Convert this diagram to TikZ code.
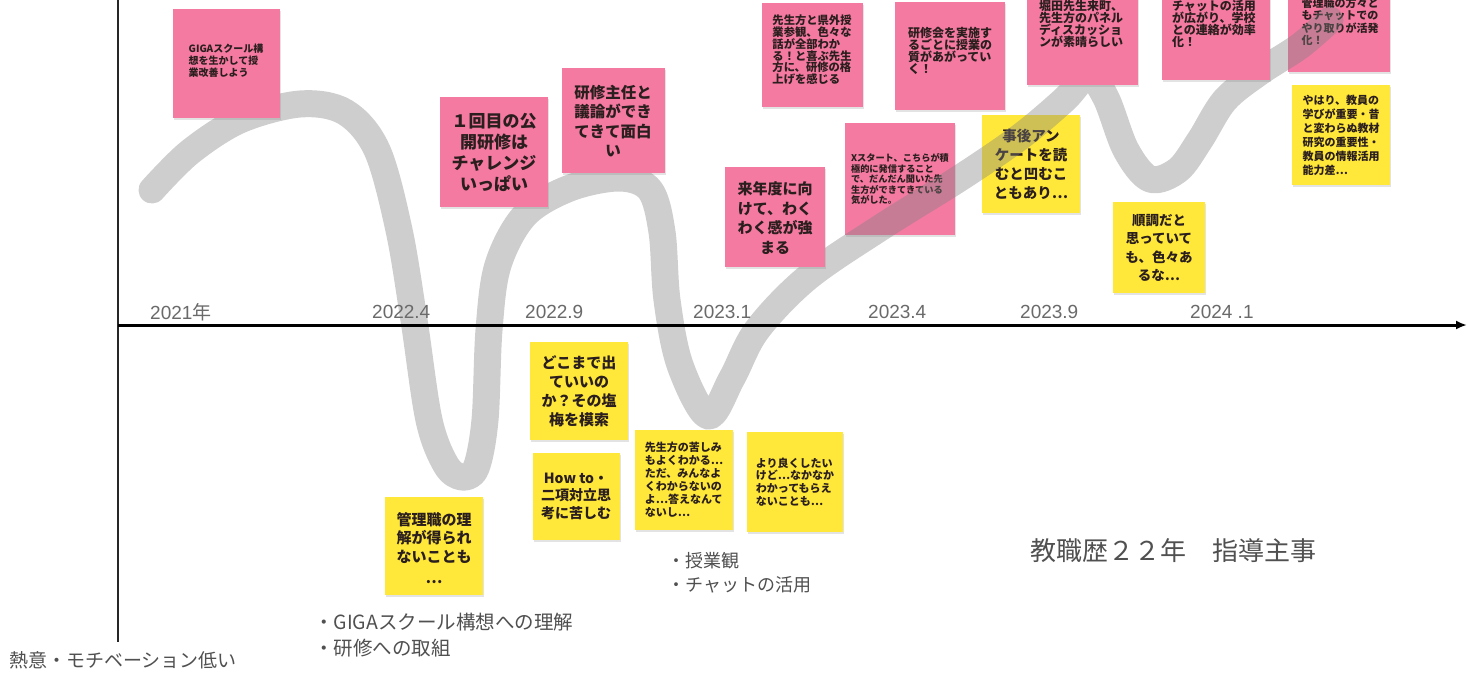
\documentclass[tikz,border=0pt]{standalone}
\usepackage{fontspec}
\newfontfamily\jp{Noto Sans CJK JP}
\newfontfamily\lat{Liberation Sans}
\usetikzlibrary{shadows,arrows.meta}
\definecolor{notepink}{HTML}{F47AA2}
\definecolor{noteyellow}{HTML}{FFE839}
\definecolor{notetext}{HTML}{2A1E1E}
\definecolor{labelgray}{HTML}{505050}
\definecolor{yeargray}{HTML}{6A6A6A}
\begin{document}
\begin{tikzpicture}[x=1pt,y=-1pt,
  notebase/.style={draw=none, inner sep=0pt, drop shadow={shadow xshift=0.6pt, shadow yshift=-1.8pt, opacity=0.22}},
  pinknote/.style={notebase, fill=notepink},
  yellownote/.style={notebase, fill=noteyellow},
  notetxt/.style={inner sep=0pt, text=notetext, font=\jp\bfseries},
  yearlbl/.style={inner sep=0pt, anchor=west, text=yeargray, font=\lat\fontsize{19}{19}\selectfont},
  graylbl/.style={inner sep=0pt, anchor=west, text=labelgray, font=\jp\fontsize{19.5}{19.5}\selectfont},
  trend/.style={draw=gray, line width=27pt, opacity=0.38, line cap=round, line join=round},
  axisline/.style={draw=black, line width=3pt}
]
\useasboundingbox (0,0) rectangle (1468,673);
\fill[white] (0,0) rectangle (1468,673);

% notes that the curve passes over
\path[pinknote] (845,123) rectangle (955,235);
\node[notetxt, align=left, font=\jp\bfseries\fontsize{9.2}{10.5}\selectfont] (t10) at (900,179) {Xスタート、こちらが積\\極的に発信すること\\で、だんだん聞いた先\\生方ができてきている\\気がした。};
\path[yellownote] (982,115) rectangle (1080,213);
\node[notetxt, align=center, font=\jp\bfseries\fontsize{14.5}{19}\selectfont] (t11) at (1031,164) {事後アン\\ケートを読\\むと凹むこ\\ともあり…};
\path[pinknote] (1288,-30) rectangle (1390,72);
\node[notetxt, align=left, font=\jp\bfseries\fontsize{11}{12.5}\selectfont] (t8) at (1340,22) {管理職の方々と\\もチャットでの\\やり取りが活発\\化！};

% the motivation curve
\draw[trend] plot[smooth, tension=0.55] coordinates {(152,190) (190,152) (240,120) (300,104) (345,112) (377,150) (399,230) (414,320) (429,420) (446,465) (462,477) (476,468) (485,420) (489,330) (498,265) (525,215) (570,188) (620,178) (650,190) (662,232) (667,300) (680,365) (708,416) (732,378) (757,330) (807,278) (880,228) (960,178) (1020,137) (1064,100) (1088,76) (1106,98) (1126,150) (1150,179) (1178,170) (1200,140) (1225,100) (1260,72) (1300,46) (1330,20)};

% notes drawn above the curve
\path[pinknote] (173,9) rectangle (280,118);
\node[notetxt, align=left, font=\jp\bfseries\fontsize{10}{12}\selectfont] (t1) at (226,61) {GIGAスクール構\\想を生かして授\\業改善しよう};
\path[pinknote] (440,97) rectangle (548,207);
\node[notetxt, align=center, font=\jp\bfseries\fontsize{17}{21}\selectfont] (t2) at (494,152) {１回目の公\\開研修は\\チャレンジ\\いっぱい};
\path[pinknote] (562,68) rectangle (665,173);
\node[notetxt, align=center, font=\jp\bfseries\fontsize{15.5}{19.5}\selectfont] (t3) at (613,121) {研修主任と\\議論ができ\\てきて面白\\い};
\path[pinknote] (762,3) rectangle (863,107);
\node[notetxt, align=left, font=\jp\bfseries\fontsize{11.3}{11.8}\selectfont] (t4) at (812,50) {先生方と県外授\\業参観、色々な\\話が全部わか\\る！と喜ぶ先生\\方に、研修の格\\上げを感じる};
\path[pinknote] (895,2) rectangle (1005,110);
\node[notetxt, align=left, font=\jp\bfseries\fontsize{12}{11.8}\selectfont] (t5) at (950,51) {研修会を実施す\\るごとに授業の\\質があがってい\\く！};
\path[pinknote] (1027,-30) rectangle (1138,85);
\node[notetxt, align=left, font=\jp\bfseries\fontsize{12}{12.2}\selectfont] (t6) at (1081,24) {堀田先生来町、\\先生方のパネル\\ディスカッショ\\ンが素晴らしい};
\path[pinknote] (1162,-30) rectangle (1270,80);
\node[notetxt, align=left, font=\jp\bfseries\fontsize{12}{12.2}\selectfont] (t7) at (1214,24) {チャットの活用\\が広がり、学校\\との連絡が効率\\化！};
\path[pinknote] (725,167) rectangle (825,267);
\node[notetxt, align=center, font=\jp\bfseries\fontsize{15}{19.5}\selectfont] (t9) at (775,218) {来年度に向\\けて、わく\\わく感が強\\まる};
\path[yellownote] (1113,202) rectangle (1205,293);
\node[notetxt, align=center, font=\jp\bfseries\fontsize{13.5}{18.3}\selectfont] (t12) at (1159,248) {順調だと\\思っていて\\も、色々あ\\るな…};
\path[yellownote] (1292,85) rectangle (1390,185);
\node[notetxt, align=left, font=\jp\bfseries\fontsize{11}{14}\selectfont] (t13) at (1341,135) {やはり、教員の\\学びが重要・昔\\と変わらぬ教材\\研究の重要性・\\教員の情報活用\\能力差…};
\path[yellownote] (530,342) rectangle (628,440);
\node[notetxt, align=center, font=\jp\bfseries\fontsize{15}{19}\selectfont] (t14) at (579,391) {どこまで出\\ていいの\\か？その塩\\梅を模索};
\path[yellownote] (533,453) rectangle (620,540);
\node[notetxt, align=center, font=\jp\bfseries\fontsize{14}{17.5}\selectfont] (t15) at (576,496) {How to・\\二項対立思\\考に苦しむ};
\path[yellownote] (635,430) rectangle (733,530);
\node[notetxt, align=left, font=\jp\bfseries\fontsize{11}{13}\selectfont] (t16) at (684,480) {先生方の苦しみ\\もよくわかる…\\ただ、みんなよ\\くわからないの\\よ…答えなんて\\ないし…};
\path[yellownote] (747,432) rectangle (843,532);
\node[notetxt, align=left, font=\jp\bfseries\fontsize{11}{12.8}\selectfont] (t17) at (795,482) {より良くしたい\\けど…なかなか\\わかってもらえ\\ないことも…};
\path[yellownote] (385,497) rectangle (483,595);
\node[notetxt, align=center, font=\jp\bfseries\fontsize{15}{18.5}\selectfont] (t18) at (434,548) {管理職の理\\解が得られ\\ないことも\\[3pt]…};

% axes
\coordinate (vtop) at (118,0);
\coordinate (vbot) at (118,642);
\coordinate (hstart) at (118,325);
\coordinate (hend) at (1467,325);
\draw[draw=black!85, line width=2pt] (vtop) -- (vbot);
\draw[axisline, -{Latex[length=11pt,width=9pt]}] (hstart) -- (hend);

% year labels
\node[yearlbl] (y1) at (150,312) {2021{\jp 年}};
\node[yearlbl] (y2) at (372,312) {2022.4};
\node[yearlbl] (y3) at (525,312) {2022.9};
\node[yearlbl] (y4) at (693,312) {2023.1};
\node[yearlbl] (y5) at (868,312) {2023.4};
\node[yearlbl] (y6) at (1020,312) {2023.9};
\node[yearlbl] (y7) at (1190,312) {2024 .1};

% other labels
\node[graylbl, font=\jp\fontsize{19}{19}\selectfont] (low) at (9,660) {熱意・モチベーション低い};
\node[graylbl] (g1) at (314,622) {・GIGAスクール構想への理解};
\node[graylbl] (g2) at (314,648) {・研修への取組};
\node[graylbl, font=\jp\fontsize{18}{18}\selectfont] (c1) at (667,561) {・授業観};
\node[graylbl, font=\jp\fontsize{18}{18}\selectfont] (c2) at (667,585) {・チャットの活用};
\node[graylbl, font=\jp\fontsize{26}{26}\selectfont] (career) at (1030,551) {教職歴２２年　指導主事};
\end{tikzpicture}
\end{document}
